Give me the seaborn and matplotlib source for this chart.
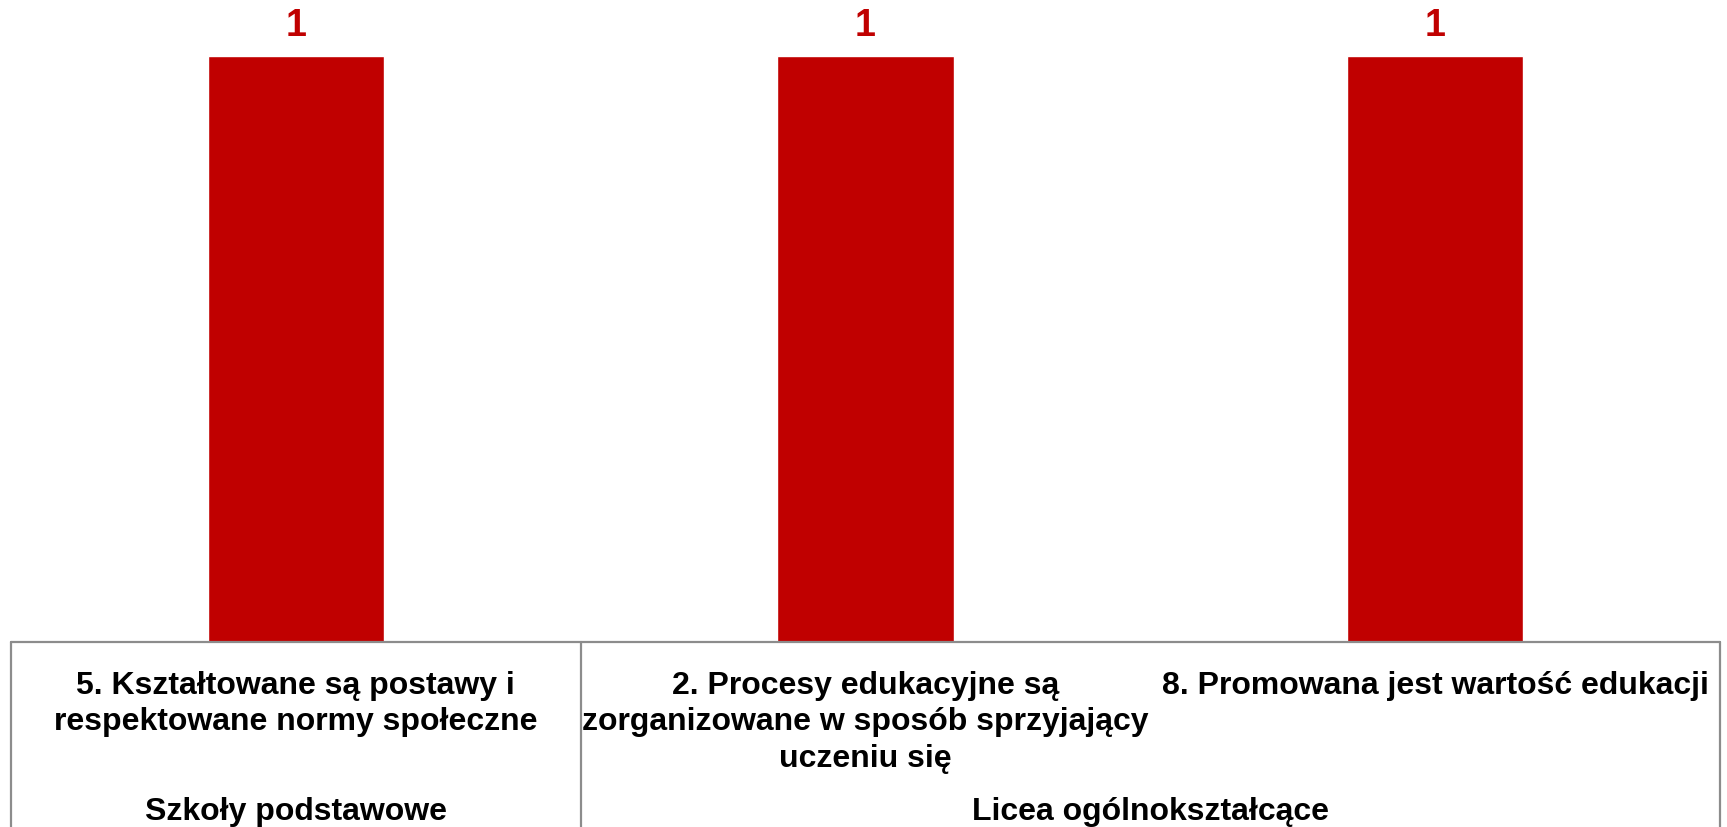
import matplotlib
matplotlib.use("Agg")
import matplotlib.pyplot as plt
import matplotlib.transforms as mtransforms
import seaborn as sns
import pandas as pd

categories = [
    "5. Kształtowane są postawy i\nrespektowane normy społeczne",
    "2. Procesy edukacyjne są\nzorganizowane w sposób sprzyjający\nuczeniu się",
    "8. Promowana jest wartość edukacji",
]
values = [1, 1, 1]
groups = ["Szkoły podstawowe", "Licea ogólnokształcące"]
group_sizes = [1, 2]

sns.set_theme(style="white")
plt.rcParams["font.family"] = ["Liberation Sans", "DejaVu Sans"]

W, H, DPI = 1727, 827, 100
fig = plt.figure(figsize=(W / DPI, H / DPI), dpi=DPI)
ax_left, ax_right, ax_bottom_px = 11, 1720, 642
ax = fig.add_axes([ax_left / W, (H - ax_bottom_px) / H, (ax_right - ax_left) / W, ax_bottom_px / H])

df = pd.DataFrame({"cat": categories, "val": values})
sns.barplot(data=df, x="cat", y="val", color="#C00000", saturation=1, width=0.31, ax=ax)

ax.set_xlim(-0.5, len(categories) - 0.5)
ax.set_ylim(0, 1.0956)
ax.set_xticks([])
ax.set_yticks([])
ax.set_xlabel("")
ax.set_ylabel("")
for s in ax.spines.values():
    s.set_visible(False)

# value labels
for i, v in enumerate(values):
    ax.annotate(str(v), xy=(i, v), xytext=(0, 14.4), textcoords="offset points",
                ha="center", va="baseline", fontsize=27, fontweight="bold", color="#C00000")

# table lines
line_col = "#8c8c8c"
trans = mtransforms.blended_transform_factory(ax.transData, ax.transAxes)
ax.plot([-0.5, len(categories) - 0.5], [0, 0], color=line_col, lw=1.6, transform=trans, clip_on=False)
bounds = [-0.5]
acc = -0.5
for g in group_sizes:
    acc += g
    bounds.append(acc)
for b in bounds:
    ax.plot([b, b], [0, -0.35], color=line_col, lw=1.6, transform=trans, clip_on=False)

# category labels
for i, c in enumerate(categories):
    ax.annotate(c, xy=(i, 0), xycoords=trans, xytext=(0, -21), textcoords="offset points",
                ha="center", va="top", fontsize=23, fontweight="bold", color="black",
                linespacing=1.27, annotation_clip=False)

# group labels
start = -0.5
for g, n in zip(groups, group_sizes):
    center = start + n / 2
    ax.annotate(g, xy=(center, 0), xycoords=trans, xytext=(0, -122.5), textcoords="offset points",
                ha="center", va="center", fontsize=23, fontweight="bold", color="black",
                annotation_clip=False)
    start += n

fig.savefig("out.png", dpi=DPI)
